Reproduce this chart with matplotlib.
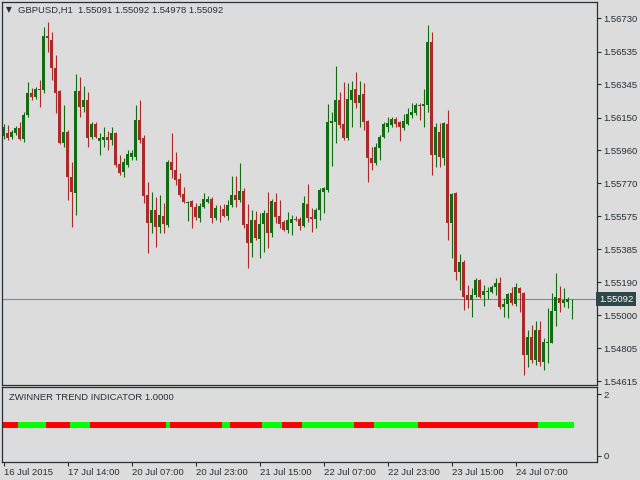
import matplotlib
matplotlib.use("Agg")
import matplotlib.pyplot as plt

# ---------------- data ----------------
symbol = "GBPUSD,H1"
last_ohlc = [1.55091, 1.55092, 1.54978, 1.55092]
indicator_name = "ZWINNER TREND INDICATOR 1.0000"

opens = [
    1.56045, 1.56062, 1.56039, 1.56062, 1.56091, 1.56027, 1.56167, 1.56295, 1.56272, 1.56319,
    1.56313, 1.56628, 1.56605, 1.56441, 1.56307, 1.56004, 1.56068, 1.55805, 1.55712, 1.56307,
    1.56214, 1.56255, 1.56039, 1.56115, 1.56015, 1.56021, 1.56039, 1.56021, 1.56062, 1.55881,
    1.55835, 1.55875, 1.55922, 1.55922, 1.56138, 1.56033, 1.55700, 1.55537, 1.55613, 1.55514,
    1.55578, 1.55525, 1.55893, 1.55846, 1.55794, 1.55706, 1.55654, 1.55665, 1.55630, 1.55566,
    1.55630, 1.55660, 1.55677, 1.55566, 1.55613, 1.55619, 1.55578, 1.55642, 1.55700, 1.55671,
    1.55724, 1.55531, 1.55420, 1.55555, 1.55444, 1.55531, 1.55595, 1.55479, 1.55660, 1.55578,
    1.55543, 1.55496, 1.55537, 1.55560, 1.55560, 1.55520, 1.55648, 1.55572, 1.55560, 1.55613,
    1.55718, 1.55730, 1.56120, 1.56126, 1.56255, 1.56115, 1.56033, 1.56255, 1.56319, 1.56237,
    1.56290, 1.56132, 1.55916, 1.55887, 1.55975, 1.56039, 1.56097, 1.56109, 1.56144, 1.56126,
    1.56091, 1.56115, 1.56167, 1.56179, 1.56225, 1.56220, 1.56225, 1.56593, 1.55934, 1.56068,
    1.55916, 1.56115, 1.55537, 1.55712, 1.55251, 1.55310, 1.55117, 1.55088, 1.55117, 1.55205,
    1.55117, 1.55135, 1.55135, 1.55164, 1.55187, 1.55047, 1.55064, 1.55129, 1.55064, 1.55158,
    1.55129, 1.54767, 1.54872, 1.54738, 1.54913, 1.54726, 1.54837, 1.54837, 1.55024, 1.55099,
    1.55070, 1.55076, 1.55091,
]
highs = [
    1.56115, 1.56109, 1.56080, 1.56103, 1.56126, 1.56185, 1.56360, 1.56325, 1.56330, 1.56371,
    1.56681, 1.56710, 1.56651, 1.56517, 1.56313, 1.56225, 1.56080, 1.55893, 1.56406, 1.56389,
    1.56336, 1.56301, 1.56126, 1.56126, 1.56062, 1.56097, 1.56074, 1.56097, 1.56068, 1.55934,
    1.55916, 1.55963, 1.55963, 1.56225, 1.56255, 1.56050, 1.55776, 1.55718, 1.55689, 1.55700,
    1.55654, 1.55905, 1.56062, 1.55951, 1.55829, 1.55747, 1.55665, 1.55671, 1.55654, 1.55654,
    1.55712, 1.55695, 1.55689, 1.55642, 1.55642, 1.55648, 1.55671, 1.55811, 1.55811, 1.55887,
    1.55741, 1.55648, 1.55613, 1.55607, 1.55595, 1.55613, 1.55718, 1.55677, 1.55712, 1.55671,
    1.55555, 1.55601, 1.55584, 1.55578, 1.55572, 1.55695, 1.55765, 1.55625, 1.55625, 1.55741,
    1.55747, 1.56231, 1.56185, 1.56453, 1.56301, 1.56360, 1.56354, 1.56365, 1.56418, 1.56365,
    1.56354, 1.56138, 1.55980, 1.56004, 1.56050, 1.56126, 1.56155, 1.56155, 1.56155, 1.56132,
    1.56173, 1.56208, 1.56237, 1.56237, 1.56237, 1.56319, 1.56692, 1.56651, 1.56120, 1.56120,
    1.56126, 1.56196, 1.55712, 1.55718, 1.55356, 1.55321, 1.55175, 1.55158, 1.55216, 1.55210,
    1.55175, 1.55164, 1.55175, 1.55216, 1.55222, 1.55099, 1.55129, 1.55164, 1.55187, 1.55164,
    1.55135, 1.54913, 1.54942, 1.54965, 1.54965, 1.54866, 1.55041, 1.55129, 1.55245, 1.55170,
    1.55158, 1.55105, 1.55092,
]
lows = [
    1.56027, 1.56021, 1.56027, 1.56050, 1.56021, 1.56010, 1.56155, 1.56255, 1.56260, 1.56214,
    1.56295, 1.56535, 1.56371, 1.56179, 1.56000, 1.55980, 1.55671, 1.55514, 1.55584, 1.56155,
    1.56185, 1.55980, 1.56027, 1.56033, 1.55934, 1.55980, 1.55963, 1.55992, 1.55864, 1.55817,
    1.55805, 1.55864, 1.55905, 1.55905, 1.56004, 1.55654, 1.55362, 1.55479, 1.55397, 1.55479,
    1.55479, 1.55514, 1.55800, 1.55759, 1.55689, 1.55654, 1.55549, 1.55508, 1.55555, 1.55543,
    1.55625, 1.55654, 1.55537, 1.55555, 1.55543, 1.55572, 1.55555, 1.55630, 1.55630, 1.55660,
    1.55508, 1.55275, 1.55339, 1.55438, 1.55333, 1.55368, 1.55391, 1.55455, 1.55537, 1.55508,
    1.55490, 1.55479, 1.55467, 1.55549, 1.55496, 1.55514, 1.55543, 1.55485, 1.55508, 1.55555,
    1.55595, 1.55718, 1.55870, 1.56004, 1.56091, 1.56021, 1.56021, 1.56097, 1.56208, 1.56097,
    1.56080, 1.55776, 1.55846, 1.55875, 1.55905, 1.56033, 1.56068, 1.56097, 1.56097, 1.56015,
    1.56080, 1.56109, 1.56150, 1.56167, 1.56138, 1.56097, 1.56185, 1.55817, 1.55864, 1.55864,
    1.55875, 1.55438, 1.55333, 1.55205, 1.55146, 1.55030, 1.55041, 1.54989, 1.55105, 1.55099,
    1.55053, 1.55093, 1.55129, 1.55117, 1.55035, 1.54989, 1.54983, 1.55058, 1.55053, 1.55018,
    1.54650, 1.54697, 1.54720, 1.54709, 1.54703, 1.54679, 1.54720, 1.54837, 1.54936, 1.55018,
    1.55047, 1.55041, 1.54978,
]
closes = [
    1.56097, 1.56033, 1.56068, 1.56091, 1.56027, 1.56167, 1.56295, 1.56272, 1.56319, 1.56313,
    1.56628, 1.56616, 1.56441, 1.56295, 1.56004, 1.56068, 1.55805, 1.55718, 1.56307, 1.56214,
    1.56255, 1.56033, 1.56115, 1.56039, 1.56033, 1.56039, 1.56021, 1.56062, 1.55875, 1.55829,
    1.55893, 1.55940, 1.55945, 1.56138, 1.56021, 1.55695, 1.55537, 1.55613, 1.55514, 1.55584,
    1.55531, 1.55893, 1.55846, 1.55788, 1.55700, 1.55660, 1.55660, 1.55630, 1.55572, 1.55636,
    1.55677, 1.55677, 1.55566, 1.55625, 1.55610, 1.55578, 1.55642, 1.55700, 1.55671, 1.55724,
    1.55525, 1.55420, 1.55555, 1.55450, 1.55531, 1.55595, 1.55479, 1.55665, 1.55572, 1.55531,
    1.55496, 1.55555, 1.55560, 1.55555, 1.55520, 1.55654, 1.55566, 1.55560, 1.55613, 1.55730,
    1.55741, 1.56126, 1.56132, 1.56255, 1.56109, 1.56033, 1.56260, 1.56313, 1.56237, 1.56284,
    1.56126, 1.55916, 1.55887, 1.55980, 1.56039, 1.56115, 1.56120, 1.56144, 1.56115, 1.56097,
    1.56132, 1.56173, 1.56185, 1.56225, 1.56220, 1.56231, 1.56593, 1.55934, 1.56097, 1.55922,
    1.56120, 1.55537, 1.55706, 1.55251, 1.55310, 1.55105, 1.55088, 1.55117, 1.55205, 1.55105,
    1.55140, 1.55140, 1.55164, 1.55187, 1.55047, 1.55064, 1.55123, 1.55070, 1.55164, 1.55129,
    1.54767, 1.54872, 1.54738, 1.54913, 1.54726, 1.54843, 1.54843, 1.55024, 1.55105, 1.55070,
    1.55088, 1.55093, 1.55092,
]

# trend indicator state per bar: 1 = up (green), -1 = down (red); run lengths in order
trend_runs = [(-1, 4), (1, 7), (-1, 6), (1, 5), (-1, 19), (1, 1), (-1, 13), (1, 2),
              (-1, 8), (1, 5), (-1, 5), (1, 13), (-1, 5), (1, 11), (-1, 18), (-1, 1),
              (-1, 11), (1, 9)]
trend_value = 1.0

price_ticks = [1.56730, 1.56535, 1.56345, 1.56150, 1.55960, 1.55770, 1.55575,
               1.55385, 1.55190, 1.55000, 1.54805, 1.54615]
time_tick_bars = [0, 16, 32, 48, 64, 80, 96, 112, 128]
time_tick_labels = ["16 Jul 2015", "17 Jul 14:00", "20 Jul 07:00", "20 Jul 23:00",
                    "21 Jul 15:00", "22 Jul 07:00", "22 Jul 23:00", "23 Jul 15:00",
                    "24 Jul 07:00"]
ind_ticks = [0, 2]

# ---------------- style ----------------
BG = "#dcdcdc"
FG = "#2a2f33"
BULL = "#136b13"
BEAR = "#a82a2a"
FONT = "Liberation Sans"
FS = 6.8

W, H = 640, 480
fig = plt.figure(figsize=(6.4, 4.8), dpi=100, facecolor=BG)

ax = fig.add_axes([2 / W, 1 - 385 / H, 595 / W, 383 / H], facecolor=BG)
ax2 = fig.add_axes([2 / W, 1 - 462 / H, 595 / W, 75 / H], facecolor=BG)

n = len(closes)
xs = list(range(n))
for i in xs:
    o, h, l, c = opens[i], highs[i], lows[i], closes[i]
    col = BULL if c >= o else BEAR
    ax.vlines(i, l, h, colors=col, linewidth=0.8)
    body = max(abs(c - o), 0.00003)
    ax.bar(i, body, bottom=min(o, c), width=0.75, color=col, linewidth=0)

last_close = closes[-1]
ax.axhline(last_close, color="#7d8a94", linewidth=0.8, zorder=0)

ax.set_xlim(-0.375, 148.375)
ax.set_ylim(1.54592, 1.56826)
ax.set_xticks([])
ax.yaxis.tick_right()
ax.set_yticks(price_ticks)
ax.set_yticklabels([f"{p:.5f}" for p in price_ticks], fontsize=FS, family=FONT, color=FG)
ax.tick_params(axis="y", length=3, width=0.8, color=FG, pad=1.5)
for s in ax.spines.values():
    s.set_color(FG)
    s.set_linewidth(0.9)

# current price label
ax.text(1.003, last_close, f"{last_close:.5f}", transform=ax.get_yaxis_transform(),
        ha="left", va="center", fontsize=FS, family=FONT, color="white",
        bbox=dict(boxstyle="square,pad=0.25", facecolor="#2c4848", edgecolor="none"),
        clip_on=False, zorder=5)

# header
fig.text(6 / W, 1 - 10 / H, "\u25BC", fontsize=5.5, family="DejaVu Sans", color=FG,
         va="center", ha="left")
fig.text(18 / W, 1 - 10 / H,
         f"{symbol}  " + " ".join(f"{v:.5f}" for v in last_ohlc),
         fontsize=FS, family=FONT, color=FG, va="center", ha="left")

# indicator panel
pos = 0
for state, length in trend_runs:
    col = "#00ff00" if state > 0 else "#ff0000"
    ax2.hlines(trend_value, pos - 0.5, pos + length - 0.5, colors=col, linewidth=4.3,
               capstyle="butt")
    pos += length

ax2.set_xlim(-0.375, 148.375)
ax2.set_ylim(-0.194, 2.226)
ax2.yaxis.tick_right()
ax2.set_yticks(ind_ticks)
ax2.set_yticklabels([str(t) for t in ind_ticks], fontsize=FS, family=FONT, color=FG)
ax2.set_xticks(time_tick_bars)
ax2.set_xticklabels(time_tick_labels, fontsize=FS, family=FONT, color=FG)
for lbl in ax2.get_xticklabels():
    lbl.set_horizontalalignment("left")
ax2.tick_params(axis="y", length=3, width=0.8, color=FG, pad=1.5)
ax2.tick_params(axis="x", length=3, width=0.8, color=FG, pad=1.5)
for s in ax2.spines.values():
    s.set_color(FG)
    s.set_linewidth(0.9)
ax2.text(7 / 595, 1 - 10 / 75, indicator_name, transform=ax2.transAxes,
         fontsize=FS, family=FONT, color=FG, va="center", ha="left")

fig.savefig("out.png", dpi=100, facecolor=BG)
